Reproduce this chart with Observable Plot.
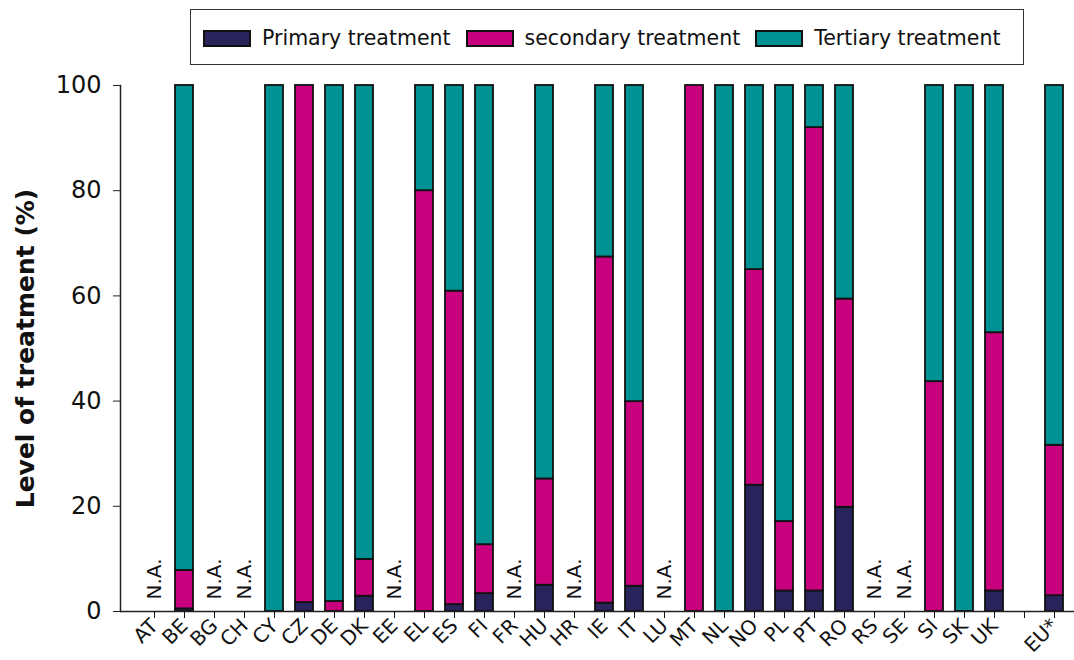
<!DOCTYPE html>
<html>
<head>
<meta charset="utf-8">
<script src="https://cdn.jsdelivr.net/npm/d3@7"></script>
<script src="https://cdn.jsdelivr.net/npm/@observablehq/plot@0.6"></script>
<style>
  html, body { margin: 0; padding: 0; background: #fff; }
  #wrap { position: relative; width: 1074px; height: 660px; font-family: "DejaVu Sans", Verdana, sans-serif; }
  #legend { position: absolute; left: 190px; top: 9px; width: 834px; height: 56px; box-sizing: border-box;
    border: 1.5px solid #333; display: flex; align-items: center; padding-left: 12px; padding-top: 2px; font-size: 20.5px; color: #111; white-space: nowrap; }
  .item { display: flex; align-items: center; margin-right: 15px; flex-shrink: 0; }
  .sw { width: 48px; height: 17px; box-sizing: border-box; border: 2px solid #111; margin-right: 11px; flex-shrink: 0; }
</style>
</head>
<body>
<div id="wrap"><div id="legend"></div></div>
<script>
// ---- data ----
const countries = ["AT","BE","BG","CH","CY","CZ","DE","DK","EE","EL","ES","FI","FR","HU","HR","IE","IT","LU","MT","NL","NO","PL","PT","RO","RS","SE","SI","SK","UK"," ","EU*"];
const primary   = [null,0.5,null,null,0,  1.7,0,  2.9,null,0,  1.3,3.4,null,5.0,null,1.6,4.8,null,0,  0,  24.0,3.9,3.9,19.8,null,null,0,  0,  3.9,null,3.0];
const secondary = [null,7.3,null,null,0, 98.3,1.9,7.0,null,80.0,59.6,9.3,null,20.2,null,65.8,35.1,null,100,0, 41.0,13.2,88.1,39.6,null,null,43.7,0, 49.1,null,28.6];
const tertiary  = [null,92.2,null,null,100,0, 98.1,90.1,null,20.0,39.1,87.3,null,74.8,null,32.6,60.1,null,0, 100,35.0,82.9,8.0,40.6,null,null,56.3,100,47.0,null,68.4];
const types  = ["Primary treatment","secondary treatment","Tertiary treatment"];
const colors = ["#29235c","#c8007e","#009193"];
const yTicks = [0,20,40,60,80,100];
const yLabel = "Level of treatment (%)";
const naLabel = "N.A.";

// ---- build tables ----
const series = [primary, secondary, tertiary];
const rows = [];
countries.forEach((c, i) => {
  series.forEach((s, k) => {
    if (s[i] != null && s[i] > 0) rows.push({country: c, type: types[k], value: s[i]});
  });
});
const na = countries.filter((c, i) => c.trim() !== "" && primary[i] == null && secondary[i] == null && tertiary[i] == null);

// ---- legend ----
const leg = document.getElementById("legend");
types.forEach((t, k) => {
  const it = document.createElement("div"); it.className = "item";
  const sw = document.createElement("div"); sw.className = "sw"; sw.style.background = colors[k];
  const tx = document.createElement("span"); tx.textContent = t;
  it.appendChild(sw); it.appendChild(tx); leg.appendChild(it);
});

// ---- chart ----
const chart = Plot.plot({
  width: 1074,
  height: 660,
  marginTop: 85,
  marginBottom: 49,
  marginLeft: 120,
  marginRight: 0,
  style: {fontFamily: "DejaVu Sans, Verdana, sans-serif", color: "#111", background: "transparent"},
  x: {type: "band", domain: countries, range: [142, 1066], paddingInner: 0.4, paddingOuter: 0},
  y: {domain: [0, 100]},
  color: {domain: types, range: colors},
  marks: [
    Plot.barY(rows, {x: "country", y: "value", fill: "type", stroke: "#111", strokeWidth: 1.8}),
    Plot.text(na, {x: d => d, y: () => 0, text: () => naLabel, rotate: -90, textAnchor: "start", lineAnchor: "middle", dy: -12, fontSize: 20, fill: "#111"}),
    Plot.frame({anchor: "left", stroke: "#222", strokeWidth: 1.5}),
    Plot.ruleY([0], {stroke: "#222", strokeWidth: 1.5}),
    Plot.axisY({ticks: yTicks, tickSize: 7, tickPadding: 12, fontSize: 24, label: null, stroke: "#222"}),
    Plot.axisX({tickRotate: -45, tickSize: 7, tickPadding: 4, fontSize: 20, label: null, tickFormat: d => d.trim()}),
    Plot.text([yLabel], {frameAnchor: "left", rotate: -90, textAnchor: "middle", lineAnchor: "middle", dx: -95, dy: 0, fontSize: 25, fontWeight: "bold", fill: "#111"})
  ]
});
chart.style.position = "absolute";
chart.style.left = "0px";
chart.style.top = "0px";
document.getElementById("wrap").insertBefore(chart, document.getElementById("legend"));
</script>
</body>
</html>
